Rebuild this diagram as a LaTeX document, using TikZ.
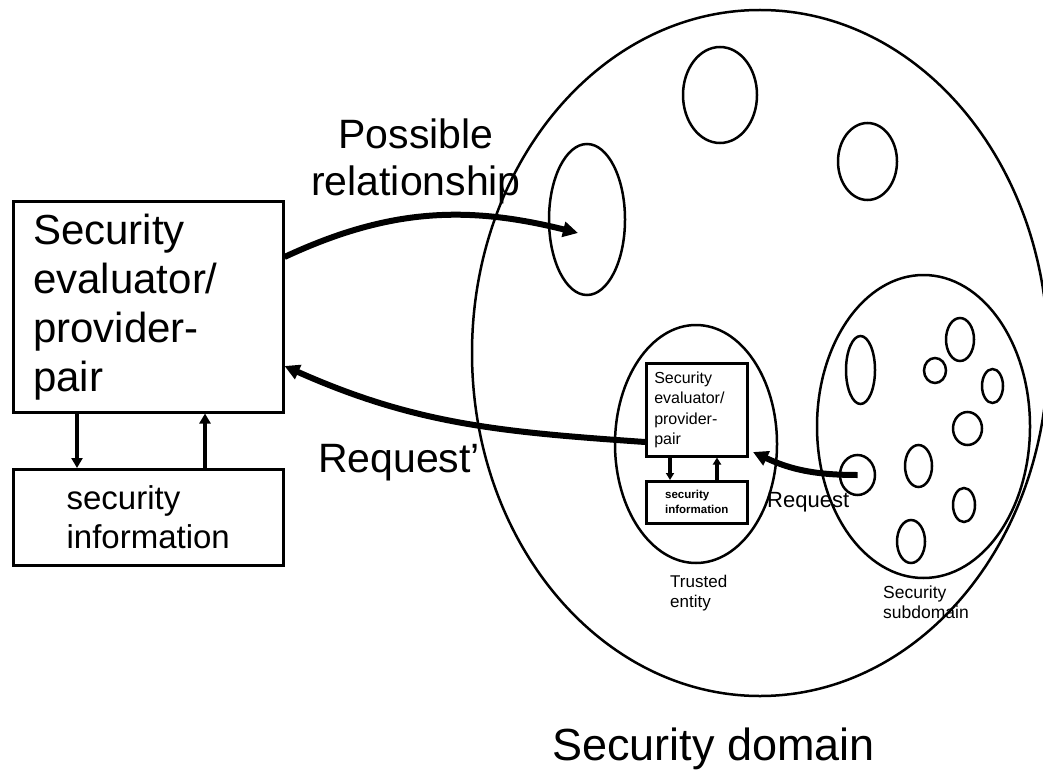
\documentclass[tikz,border=0pt]{standalone}
\usepackage{fontspec}
\setmainfont{Liberation Sans}
\usetikzlibrary{shapes.geometric,arrows.meta}

\begin{document}
\begin{tikzpicture}[x=1pt,y=1pt,
        box/.style={draw, line width=2.5pt, inner sep=0pt},
        blob/.style={draw, ellipse, line width=2.5pt, inner sep=0pt},
        bigarrow/.style={-{Triangle[length=15pt,width=15pt]}, line width=6pt},
        smallarrow/.style={-{Triangle[length=10pt,width=11pt]}, line width=4.5pt},
        tinyarrow/.style={-{Triangle[length=7pt,width=8pt]}, line width=3.2pt}]

        \useasboundingbox (0,0) rectangle (1043,-770);

        % Security domain with its entities
        \node[blob, minimum width=576, minimum height=686] (domain) at (760,-353) {};
        \node[blob, minimum width=76, minimum height=151] (relblob) at (587,-219.5) {};
        \node[blob, minimum width=74, minimum height=96] (topblob) at (720,-95) {};
        \node[blob, minimum width=59, minimum height=77] (rightblob) at (867.5,-161.5) {};

        % Security subdomain
        \node[blob, minimum width=213, minimum height=303] (subdomain) at (923.5,-426.5) {};
        \foreach \n/\cx/\cy/\rx/\ry in {1/860.5/370/14.5/34, 2/960/339.5/14/21.5,
                3/935/370.5/11/12.5, 4/992.5/386/10.5/17, 5/967.5/428.5/14.5/16.5,
                6/918.5/466/13.5/21, 7/857.5/475/17.5/20, 8/964/505/11/17,
                9/911/541.5/14/21.5}
            \node[blob, minimum width=2*\rx, minimum height=2*\ry] (sub\n) at (\cx,-\cy) {};

        % Trusted entity
        \node[blob, minimum width=162, minimum height=238] (trusted) at (696,-444) {};
        \node[box, anchor=north west, minimum width=101, minimum height=93, text width=85,
            inner xsep=8, align=left, font=\fontsize{16}{20.5}\selectfont] (tsep) at (645,-362)
            {Security\\evaluator/\\provider-\\pair};
        \node[box, anchor=north west, minimum width=101, minimum height=42, align=left,
            font=\bfseries\fontsize{11.5}{15}\selectfont] (tinfo) at (645,-480)
            {security\\information};
        \draw[tinyarrow] ([xshift=25]tsep.south west) -- ([xshift=25]tinfo.north west);
        \draw[tinyarrow] ([xshift=72]tinfo.north west) -- ([xshift=72]tsep.south west);

        % Outside evaluator/provider pair
        \node[box, anchor=north west, minimum width=270, minimum height=211, text width=230,
            inner xsep=20, align=left, font=\fontsize{42}{49}\selectfont] (sep) at (12,-200)
            {Security\\evaluator/\\provider-\\pair};
        \node[box, anchor=north west, minimum width=270, minimum height=96, align=left,
            font=\fontsize{33}{39}\selectfont] (info) at (12,-468)
            {security\\information};
        \draw[smallarrow] ([xshift=65]sep.south west) -- ([xshift=65]info.north west);
        \draw[smallarrow] ([xshift=193]info.north west) -- ([xshift=193]sep.south west);

        % Relationships and requests
        \coordinate (reltip) at (578,-233);
        \coordinate (reqtip) at (753,-452);
        \draw[bigarrow] ([yshift=-57]sep.north east) to[out=25,in=166] (reltip);
        \draw[bigarrow] ([yshift=-80]tsep.north west) to[out=176,in=-24] ([yshift=-166]sep.north east);
        \draw[bigarrow] (sub7.center) to[out=180,in=-25] (reqtip);

        % Labels
        \node[font=\fontsize{41}{47}\selectfont, align=center] (rellabel) at (416,-161)
            {Possible\\relationship};
        \node[font=\fontsize{41}{47}\selectfont, anchor=base west, inner sep=0] (reqplabel)
            at (318,-472) {Request'};
        \node[font=\fontsize{22}{26}\selectfont, anchor=base west, inner sep=0] (reqlabel)
            at (767,-507) {Request};
        \node[font=\fontsize{17}{20}\selectfont, anchor=north west, inner sep=0, align=left]
            (trustlabel) at (670,-574.8) {Trusted\\entity};
        \node[font=\fontsize{17.5}{20}\selectfont, anchor=north west, inner sep=0, align=left]
            (sublabel) at (883,-585.5) {Security\\subdomain};
        \node[font=\fontsize{45}{50}\selectfont, anchor=base west, inner sep=0] (domainlabel)
            at (552,-760) {Security domain};
\end{tikzpicture}
\end{document}
